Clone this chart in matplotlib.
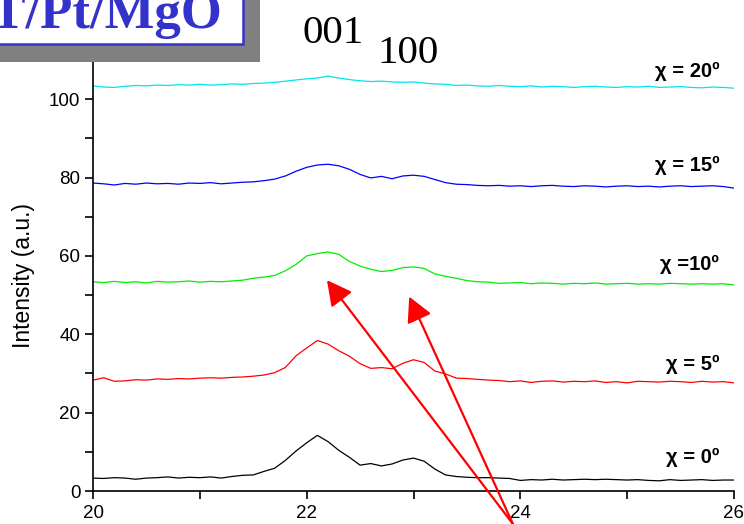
import numpy as np
import matplotlib.pyplot as plt
from matplotlib.patches import Rectangle

# 2theta grid (deg)
two_theta = np.round(np.arange(20.0, 26.01, 0.1), 1)

chi0 = [3.3, 3.2, 3.4, 3.3, 3.0, 3.3, 3.4, 3.6, 3.3, 3.5,
        3.4, 3.6, 3.3, 3.7, 4.0, 4.1, 5.0, 5.8, 7.8, 10.2,
        12.3, 14.2, 12.6, 10.4, 8.6, 6.6, 7.0, 6.4, 6.9, 7.9,
        8.4, 7.6, 5.6, 4.1, 3.7, 3.5, 3.4, 3.4, 3.3, 3.2,
        2.7, 2.9, 2.8, 3.0, 2.8, 2.9, 3.0, 2.9, 3.0, 2.9,
        2.8, 2.9, 2.7, 2.6, 2.9, 2.7, 2.8, 2.9, 2.7, 2.8, 2.8]
chi5 = [28.3, 28.9, 28.0, 28.1, 28.4, 28.3, 28.6, 28.5, 28.7, 28.6,
        28.8, 28.9, 28.8, 29.0, 29.1, 29.3, 29.6, 30.2, 31.5, 34.5,
        36.5, 38.4, 37.5, 35.8, 34.4, 32.5, 31.3, 31.5, 31.2, 32.6,
        33.5, 32.8, 30.6, 29.9, 28.8, 28.7, 28.5, 28.3, 28.2, 27.9,
        28.1, 27.7, 28.0, 28.1, 27.8, 28.0, 27.9, 28.1, 27.7, 27.9,
        27.6, 28.0, 27.9, 27.8, 28.0, 27.9, 27.7, 28.0, 27.8, 27.9, 27.6]
chi10 = [53.4, 53.2, 53.5, 53.2, 53.4, 53.1, 53.5, 53.3, 53.4, 53.6,
         53.3, 53.5, 53.4, 53.6, 53.8, 54.3, 54.6, 55.0, 56.2, 57.8,
         60.0, 60.6, 61.0, 60.4, 58.6, 57.4, 56.6, 56.0, 56.3, 57.0,
         57.2, 56.8, 55.4, 54.8, 54.3, 53.7, 53.4, 53.3, 53.0, 53.1,
         53.2, 52.9, 53.1, 53.0, 52.8, 53.0, 52.9, 53.1, 52.8, 52.9,
         53.0, 52.8, 52.9, 52.8, 53.0, 52.9, 52.8, 52.9, 52.8, 52.9, 52.6]
chi15 = [78.6, 78.4, 78.1, 78.5, 78.3, 78.6, 78.4, 78.5, 78.3, 78.6,
         78.5, 78.7, 78.4, 78.6, 78.8, 78.9, 79.2, 79.6, 80.4, 81.6,
         82.6, 83.2, 83.4, 83.0, 82.1, 80.8, 79.9, 80.3, 79.7, 80.4,
         80.6, 80.3, 79.5, 78.7, 78.3, 78.2, 78.0, 77.9, 78.0, 77.8,
         77.9, 77.7, 77.9, 78.0, 77.8, 77.7, 77.9, 77.8, 77.6, 77.8,
         77.9, 77.7, 77.8, 77.6, 77.8, 77.9, 77.7, 77.8, 77.9, 77.7, 77.3]
chi20 = [103.4, 103.1, 103.0, 103.3, 103.5, 103.4, 103.6, 103.5, 103.7, 103.6,
         103.8, 103.6, 103.7, 103.9, 103.8, 104.0, 104.1, 104.3, 104.6, 104.9,
         105.2, 105.4, 105.9, 105.4, 105.0, 104.7, 104.5, 104.6, 104.4, 104.3,
         104.4, 104.1, 103.9, 103.8, 103.5, 103.6, 103.4, 103.3, 103.5, 103.3,
         103.2, 103.4, 103.1, 103.3, 103.2, 103.0, 103.2, 103.3, 103.1, 103.0,
         103.2, 103.1, 103.3, 103.0, 103.1, 103.2, 103.0, 102.9, 103.1, 103.0, 102.8]

curves = [chi0, chi5, chi10, chi15, chi20]
colors = ['black', '#ff0000', '#00ee00', '#0000ff', '#00e5ee']
labels = ['χ = 0º', 'χ = 5º', 'χ =10º', 'χ = 15º', 'χ = 20º']
label_y = [7.1, 30.9, 56.4, 81.6, 105.6]

# arrow tails / heads (2theta, intensity)
arrow_tail = (23.93, -8.4)
arrow_heads = [(22.19, 53.8), (22.96, 49.6)]

W, H = 744, 524
fig = plt.figure(figsize=(W / 100, H / 100), dpi=100)
ax = fig.add_axes([93 / W, 33 / H, 641 / W, 431 / H])

for y, c in zip(curves, colors):
    ax.plot(two_theta, y, color=c, lw=0.9)

for txt, yy in zip(labels, label_y):
    ax.text(25.86, yy, txt, ha='right', va='baseline', fontsize=14.5,
            fontweight='bold', family='Liberation Sans')

for hx, hy in arrow_heads:
    ax.annotate('', xy=(hx, hy), xytext=arrow_tail, annotation_clip=False,
                arrowprops=dict(arrowstyle='-|>,head_length=0.8,head_width=0.42',
                                mutation_scale=19, color='#ff0000', lw=1.6,
                                shrinkA=0, shrinkB=0))

ax.set_xlim(20, 26)
ax.set_ylim(0, 110)
ax.set_xticks([20, 22, 24, 26])
ax.set_xticks([21, 23, 25], minor=True)
ax.set_yticks([0, 20, 40, 60, 80, 100])
ax.set_yticks([10, 30, 50, 70, 90], minor=True)
for s in ['top', 'right']:
    ax.spines[s].set_visible(False)
for s in ['left', 'bottom']:
    ax.spines[s].set_linewidth(1.2)
ax.tick_params(which='both', direction='out', length=6, width=1.2, labelsize=13.5)
ax.tick_params(axis='x', pad=4)
ax.tick_params(axis='y', pad=3)
for lab in ax.get_xticklabels() + ax.get_yticklabels():
    lab.set_family('Liberation Sans')
ax.set_ylabel('Intensity (a.u.)', fontsize=16.5, family='Liberation Sans', labelpad=10)

# title box in the top-left corner
fig.patches.append(Rectangle((-10 / W, 1 - 62 / H), 270 / W, 72 / H, transform=fig.transFigure,
                             facecolor='#808080', edgecolor='none', zorder=5))
fig.patches.append(Rectangle((-5 / W, 1 - 44 / H), 248 / W, 50 / H, transform=fig.transFigure,
                             facecolor='white', edgecolor='#3333cc', lw=1.8, zorder=6))
fig.text(222 / W, 1 - 28 / H, 'PZT/Pt/MgO', ha='right', va='baseline', color='#3333cc',
         fontsize=38, fontweight='bold', family='Liberation Serif', zorder=7)

fig.text(302 / W, 1 - 43 / H, '001', ha='left', va='baseline', fontsize=29.5,
         family='Liberation Serif')
fig.text(377 / W, 1 - 63 / H, '100', ha='left', va='baseline', fontsize=29.5,
         family='Liberation Serif')

fig.savefig('out.png', dpi=100)
